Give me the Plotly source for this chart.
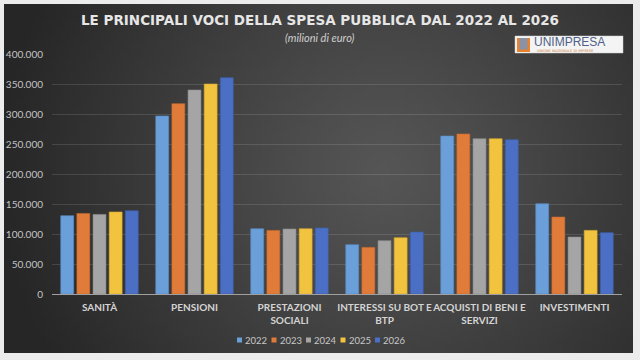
import base64, struct, zlib
import numpy as np
import plotly.graph_objects as go

categories = ["SANITÀ", "PENSIONI", "PRESTAZIONI<br>SOCIALI", "INTERESSI SU BOT E<br>BTP",
              "ACQUISTI DI BENI E<br>SERVIZI", "INVESTIMENTI"]
years = ["2022", "2023", "2024", "2025", "2026"]
v2022 = [130500, 296700, 108800, 82200, 263300, 150500]
v2023 = [134300, 317200, 106000, 77700, 266700, 128300]
v2024 = [132700, 340000, 108300, 88800, 258800, 95000]
v2025 = [136700, 350000, 108800, 93800, 258800, 106000]
v2026 = [138800, 360500, 110000, 103300, 257200, 102200]
series = [v2022, v2023, v2024, v2025, v2026]
colors = ["#6A9FD9", "#E07B39", "#A5A5A5", "#F2C33F", "#4A6FC4"]
lines = ["#5a8cc4", "#c56a2e", "#8e8e8e", "#d6aa33", "#3d5fab"]

W, H = 640, 360
L, R, T, B = 52, 18, 54, 66
PW, PH = W - L - R, H - T - B


def px(x):
    return (x - L) / PW


def py(y):
    return (H - B - y) / PH


# radial gradient background as a small PNG
gw, gh = 128, 72
yy, xx = np.mgrid[0:gh, 0:gw]
cx, cy = 0.60 * gw, 0.47 * gh
d = np.sqrt(((xx - cx) / gw) ** 2 + ((yy - cy) / gh * 0.56) ** 2) / 0.62
d = np.clip(d, 0, 1)
c = (86 - (86 - 38) * d ** 1.1).astype(np.uint8)
raw = b"".join(b"\x00" + bytes(np.stack([c[r], c[r], c[r]], axis=1).flatten()) for r in range(gh))


def chunk(tag, data):
    return struct.pack(">I", len(data)) + tag + data + struct.pack(">I", zlib.crc32(tag + data) & 0xffffffff)


png = b"\x89PNG\r\n\x1a\n" + chunk(b"IHDR", struct.pack(">IIBBBBB", gw, gh, 8, 2, 0, 0, 0)) + \
    chunk(b"IDAT", zlib.compress(raw)) + chunk(b"IEND", b"")
src = "data:image/png;base64," + base64.b64encode(png).decode()

fig = go.Figure()
for yr, vals, col, lc in zip(years, series, colors, lines):
    fig.add_trace(go.Bar(name=yr, x=categories, y=vals, showlegend=False,
                         marker=dict(color=col, line=dict(color=lc, width=0.6))))

fig.add_layout_image(dict(source=src, xref="paper", yref="paper", x=px(4), y=py(4),
                          sizex=px(633) - px(4), sizey=py(4) - py(353), sizing="stretch",
                          layer="below", xanchor="left", yanchor="top"))

shapes = [
    dict(type="rect", xref="paper", yref="paper", x0=px(515), x1=px(623), y0=py(53), y1=py(36),
         fillcolor="#f4f4f4", line=dict(color="#d0d0d0", width=0.5), layer="above"),
    dict(type="rect", xref="paper", yref="paper", x0=px(517), x1=px(530), y0=py(52), y1=py(38),
         fillcolor="#e8822e", line=dict(width=0), layer="above"),
    dict(type="rect", xref="paper", yref="paper", x0=px(519.5), x1=px(527.5), y0=py(49.5), y1=py(38),
         fillcolor="#8a93a6", line=dict(width=0), layer="above"),
]

annotations = [
    dict(text="LE PRINCIPALI VOCI DELLA SPESA PUBBLICA DAL 2022 AL 2026", xref="paper", yref="paper",
         x=px(320), y=py(20), showarrow=False, xanchor="center", yanchor="middle",
         font=dict(family="DejaVu Sans", size=13.5, color="#e6e6e6", weight="bold")),
    dict(text="<i>(milioni di euro)</i>", xref="paper", yref="paper", x=px(320), y=py(37), showarrow=False,
         xanchor="center", yanchor="middle", font=dict(family="Lato", size=11, color="#cfcfcf")),
    dict(text="UNIMPRESA", xref="paper", yref="paper", x=px(532), y=py(42), showarrow=False,
         xanchor="left", yanchor="middle", font=dict(family="Liberation Sans", size=12, color="#4f6087")),
    dict(text="UNIONE NAZIONALE DI IMPRESE", xref="paper", yref="paper", x=px(535), y=py(51), showarrow=False,
         xanchor="left", yanchor="middle", font=dict(family="DejaVu Sans", size=3.5, color="#d07a3a")),
]

# manual compact legend (small squares like the reference)
leg_x0, leg_pitch, leg_y = 237, 34.5, 340
for i, (yr, col) in enumerate(zip(years, colors)):
    mx = leg_x0 + i * leg_pitch
    shapes.append(dict(type="rect", xref="paper", yref="paper", x0=px(mx), x1=px(mx + 5),
                       y0=py(leg_y + 2.5), y1=py(leg_y - 2.5), fillcolor=col, line=dict(width=0)))
    annotations.append(dict(text=yr, xref="paper", yref="paper", x=px(mx + 6), y=py(leg_y),
                            showarrow=False, xanchor="left", yanchor="middle",
                            font=dict(family="Lato", size=9.5, color="#c8c8c8")))

fig.update_layout(
    width=W, height=H, margin=dict(l=L, r=R, t=T, b=B, autoexpand=False),
    paper_bgcolor="#ececec", plot_bgcolor="rgba(0,0,0,0)",
    barmode="group", bargap=0.15, bargroupgap=0.2,
    separators=",.",
    showlegend=False,
    shapes=shapes, annotations=annotations,
    font=dict(family="Lato"),
)
fig.update_yaxes(range=[0, 400000], dtick=50000, tickformat=",d", showgrid=True,
                 gridcolor="rgba(255,255,255,0.12)", gridwidth=1, zeroline=False,
                 showline=False, ticks="", ticklabelstandoff=8, automargin=False,
                 tickfont=dict(family="Lato", size=10, color="#c4c4c4"))
fig.update_xaxes(showline=True, linecolor="#a0a0a0", linewidth=1, ticks="", tickangle=0,
                 automargin=False, ticklabelstandoff=4,
                 tickfont=dict(family="Lato", size=10, color="#d4d4d4", weight="bold"),
                 showgrid=False)

fig.write_html("out.html", config={"displayModeBar": False, "staticPlot": True},
               post_script="document.body.style.margin='0px';document.body.style.overflow='hidden';")
